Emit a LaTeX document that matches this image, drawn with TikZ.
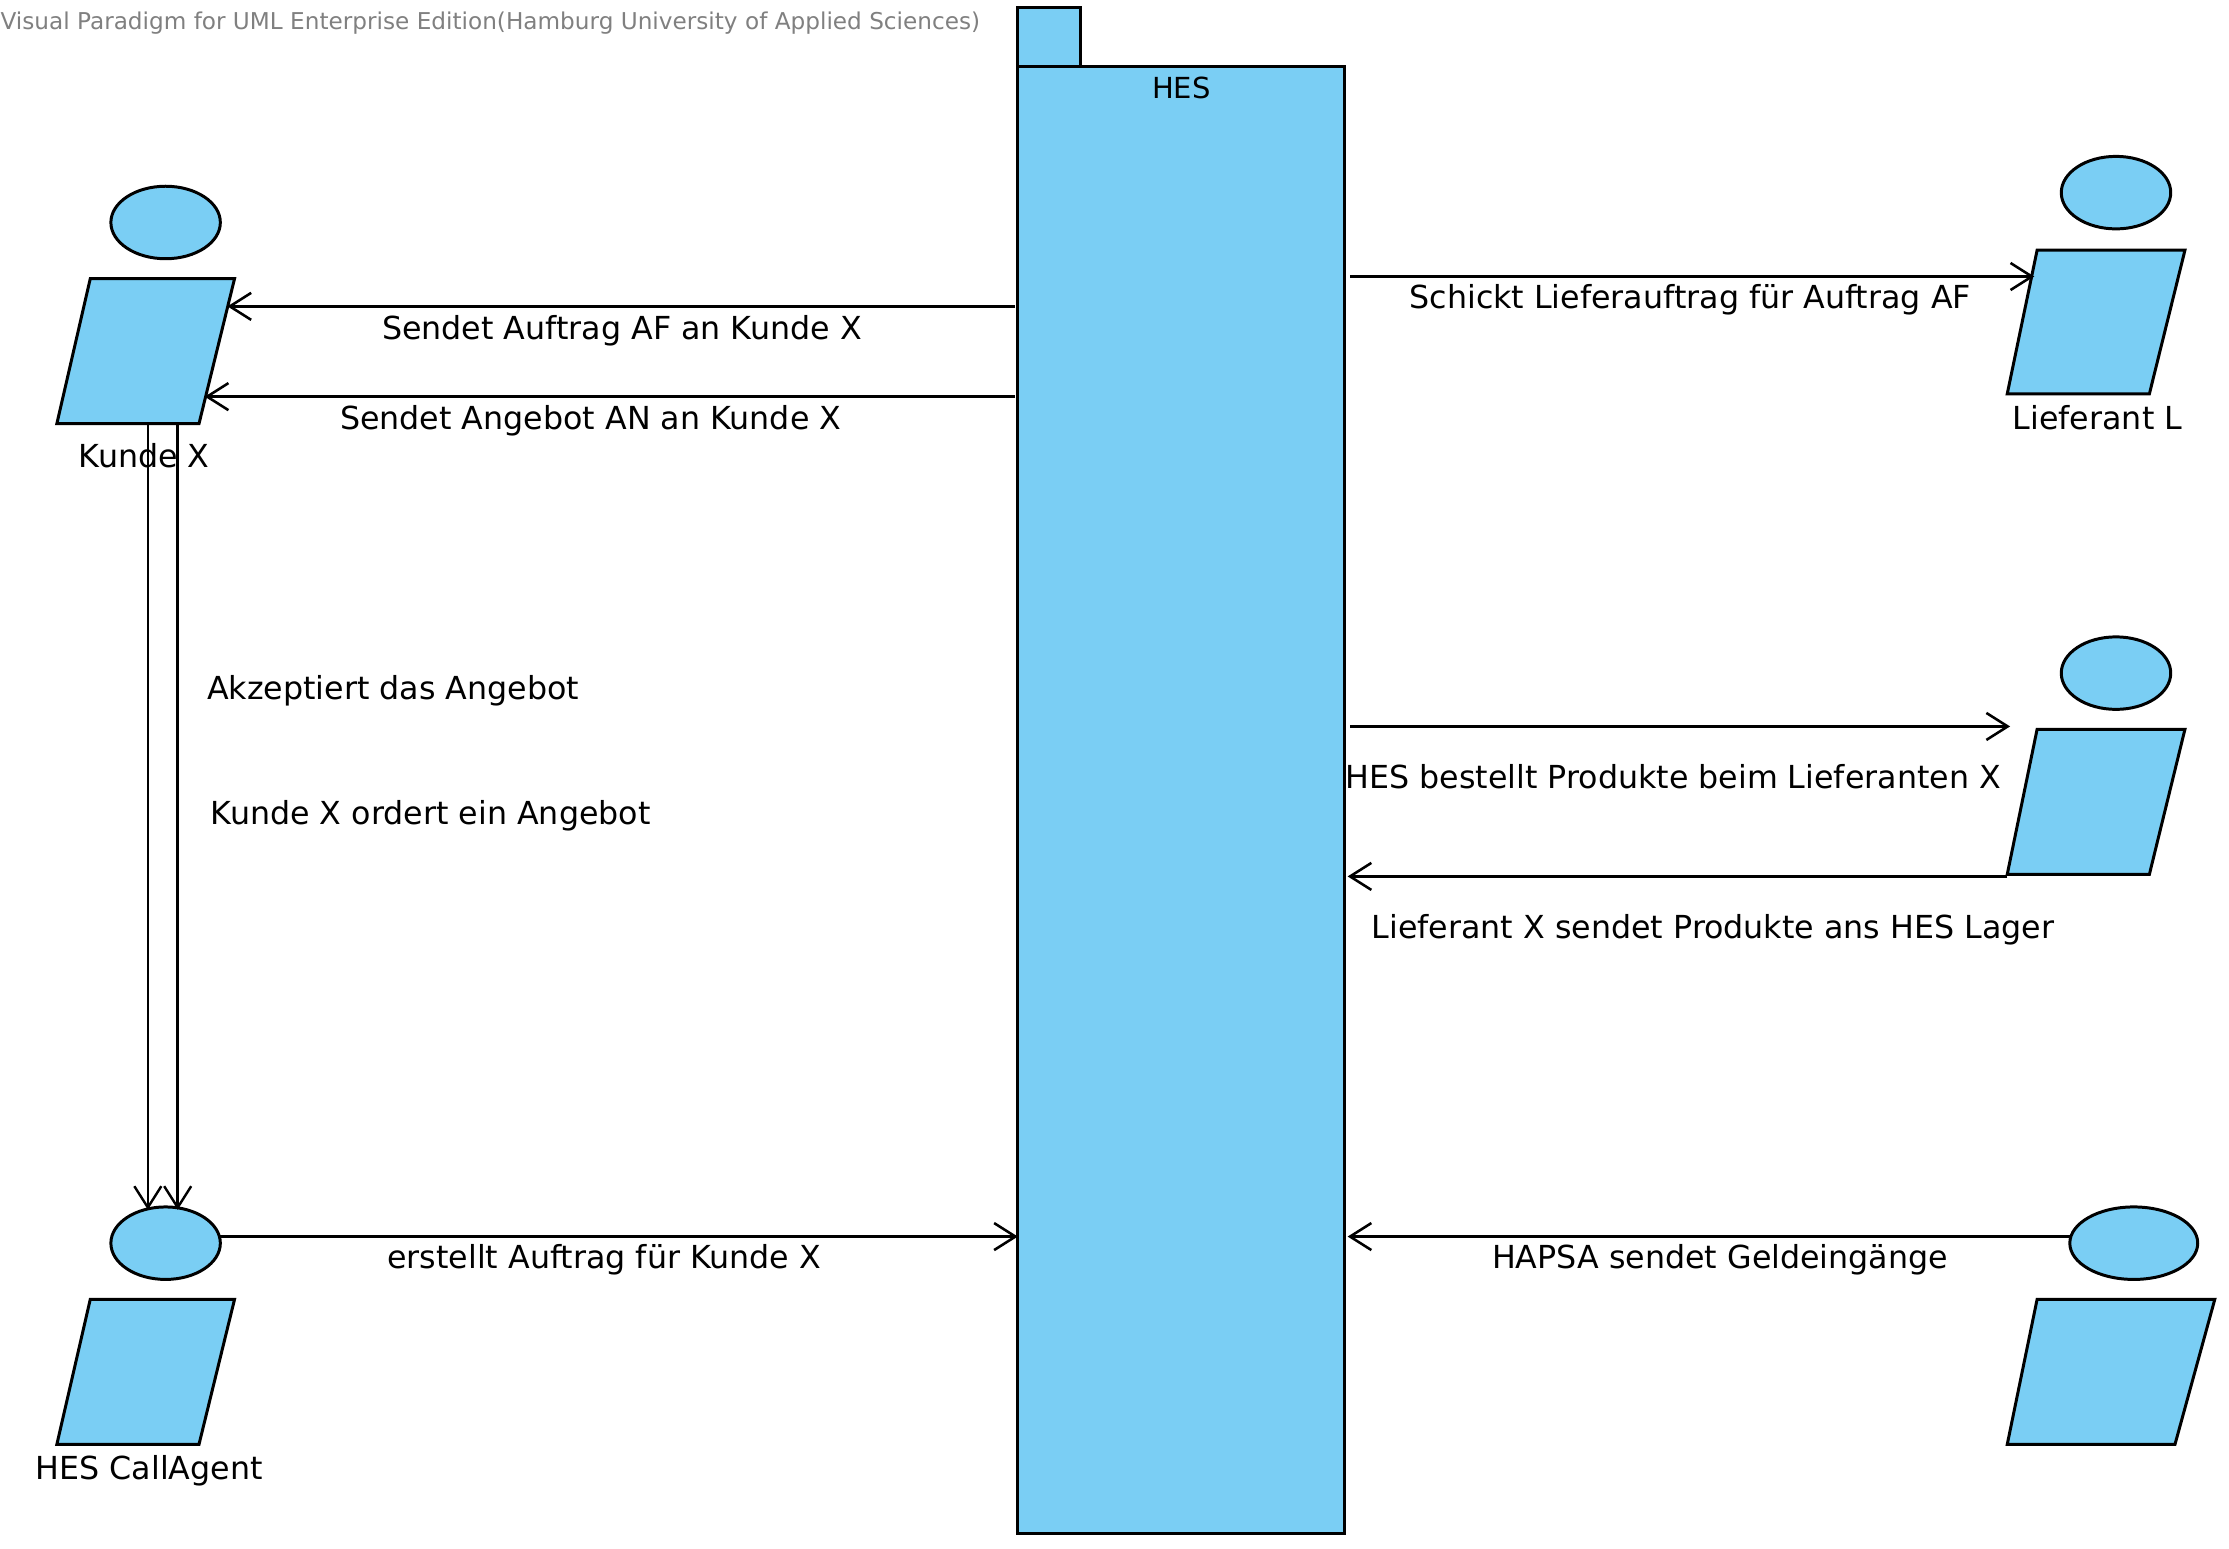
\documentclass[tikz,border=0pt]{standalone}
\usepackage{fontspec}
\setmainfont{DejaVu Sans}
\usetikzlibrary{arrows.meta,shapes.geometric}
\definecolor{actorblue}{HTML}{7ACEF4}
\tikzset{
  px/.style={x=0.5pt,y=-0.5pt},
  shapeline/.style={draw=black,fill=actorblue,line width=1.05pt,line join=miter},
  headshape/.style={shapeline,ellipse,inner sep=0pt,outer sep=0pt,minimum height=25.5pt},
  boxshape/.style={shapeline,rectangle,inner sep=0pt,outer sep=0pt},
  msg/.style={draw=black,line width=1.05pt,-{Straight Barb[length=7.5pt,width=9.5pt,line width=0.9pt]}},
  downmsg/.style={draw=black,line width=0.9pt,-{Straight Barb[length=7.5pt,width=9.5pt,line width=0.85pt]}},
  lbl/.style={inner sep=0pt,anchor=base,font=\fontsize{11.15}{13}\selectfont,text=black},
  wm/.style={inner sep=0pt,anchor=base west,font=\fontsize{8.15}{10}\selectfont,text=black!50}
}
\begin{document}
\begin{tikzpicture}[px]
\useasboundingbox (0,0) rectangle (1568,1089);
% watermark
\node[wm] (wmark) at (0,21) {Visual Paradigm for UML Enterprise Edition(Hamburg University of Applied Sciences)};
% HES package
\node[boxshape,minimum width=22pt,minimum height=21pt] (tab) at (738,26) {};
\node[boxshape,minimum width=115pt,minimum height=516pt] (hes) at (831,563) {};
\node[lbl,font=\fontsize{10.2}{12}\selectfont] (hestext) at (831,69) {HES};
% Kunde X
\node[headshape,minimum width=38.5pt] (kh) at (116.5,156.5) {};
\draw[shapeline] (63.5,196) -- (165,196) -- (140,298) -- (40,298) -- cycle;
\coordinate (kbot1) at (104,298);
\coordinate (kbot2) at (125,298);
\node[lbl] (ktext) at (101.5,329) {Kunde X};
% HES CallAgent
\node[headshape,minimum width=38.5pt] (ah) at (116.5,874.5) {};
\draw[shapeline] (63.5,914) -- (165,914) -- (140,1016) -- (40,1016) -- cycle;
\node[lbl] (atext) at (105,1041) {HES CallAgent};
% Lieferant L
\node[headshape,minimum width=38.5pt] (lh) at (1488.5,135.5) {};
\draw[shapeline] (1433,176) -- (1537,176) -- (1512,277) -- (1412,277) -- cycle;
\node[lbl] (ltext) at (1475.5,302) {Lieferant L};
% Lieferant X
\node[headshape,minimum width=38.5pt] (xh) at (1488.5,473.5) {};
\draw[shapeline] (1433,513) -- (1537,513) -- (1512,615) -- (1412,615) -- cycle;
% HAPSA
\node[headshape,minimum width=45pt] (hh) at (1501,874.5) {};
\draw[shapeline] (1433,914) -- (1558,914) -- (1530,1016) -- (1412,1016) -- cycle;
% anchors on the actor bodies
\coordinate (kin1) at (160,215.5);
\coordinate (kin2) at (144,279);
\coordinate (lin) at (1431,194.5);
\coordinate (xin) at (1414,511);
\coordinate (xout) at (1412,616.5);
\coordinate (aTop1) at (104,851);
\coordinate (aTop2) at (125,851);
% connectors
\draw[msg] ([xshift=-1pt]hes.west |- kin1) -- (kin1);
\draw[msg] ([xshift=-1pt]hes.west |- kin2) -- (kin2);
\draw[msg] ([xshift=2pt]hes.east |- lin) -- (lin);
\draw[msg] ([xshift=2pt]hes.east |- xin) -- (xin);
\draw[msg] (xout) -- ([xshift=1pt]hes.east |- xout);
\draw[msg] (ah.7) -- (ah.7 -| hes.west);
\draw[msg] (hh.174) -- ([xshift=1pt]hes.east |- hh.174);
\draw[downmsg] (kbot1) -- (aTop1);
\draw[downmsg] (kbot2) -- (aTop2);
% labels
\node[lbl] (t1) at (437.5,239) {Sendet Auftrag AF an Kunde X};
\node[lbl] (t2) at (415.5,302) {Sendet Angebot AN an Kunde X};
\node[lbl] (t3) at (276.5,492) {Akzeptiert das Angebot};
\node[lbl] (t4) at (303,580) {Kunde X ordert ein Angebot};
\node[lbl] (t5) at (425,892.5) {erstellt Auftrag für Kunde X};
\node[lbl] (t6) at (1189,217) {Schickt Lieferauftrag für Auftrag AF};
\node[lbl] (t7) at (1177,555) {HES bestellt Produkte beim Lieferanten X};
\node[lbl] (t8) at (1205,660.5) {Lieferant X sendet Produkte ans HES Lager};
\node[lbl] (t9) at (1210,892.5) {HAPSA sendet Geldeingänge};
\end{tikzpicture}
\end{document}
